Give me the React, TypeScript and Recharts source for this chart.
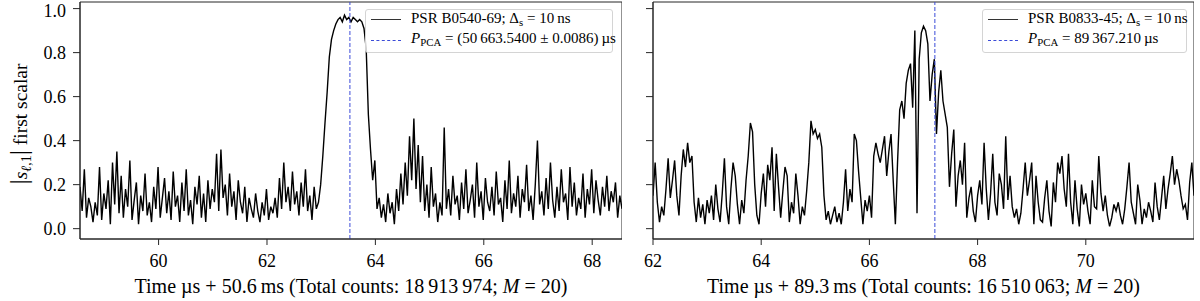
import React from "react";
import {
  LineChart,
  Line,
  XAxis,
  YAxis,
  ReferenceLine,
  ReferenceArea,
} from "recharts";

const FONT = "'Liberation Serif', 'DejaVu Serif', serif";
const AXIS = "#262626";
const BLUE = "#3b4bd8";
const STEP = 0.04; // sample spacing in µs

// PSR B0540-69
const LEFT_START = 58.55;
const LEFT_VALUES = [
  0.19, 0.08, 0.27, 0.05, 0.14, 0.10, 0.03, 0.12, 0.06, 0.28,
  0.04, 0.16, 0.09, 0.22, 0.02, 0.30, 0.11, 0.35, 0.07, 0.24,
  0.05, 0.18, 0.10, 0.31, 0.04, 0.13, 0.21, 0.02, 0.15, 0.08,
  0.25, 0.06, 0.12, 0.03, 0.19, 0.09, 0.28, 0.05, 0.14, 0.23,
  0.07, 0.17, 0.04, 0.26, 0.10, 0.15, 0.03, 0.21, 0.08, 0.27,
  0.06, 0.13, 0.02, 0.19, 0.11, 0.24, 0.05, 0.16, 0.03, 0.22,
  0.09, 0.18, 0.12, 0.34, 0.08, 0.36, 0.14, 0.20, 0.06, 0.25,
  0.10, 0.17, 0.04, 0.22, 0.12, 0.07, 0.19, 0.03, 0.14, 0.09,
  0.05, 0.16, 0.08, 0.03, 0.12, 0.06, 0.18, 0.04, 0.10, 0.07,
  0.14, 0.05, 0.23, 0.09, 0.30, 0.12, 0.19, 0.08, 0.26, 0.11,
  0.17, 0.06, 0.21, 0.10, 0.27, 0.08, 0.15, 0.04, 0.19, 0.09,
  0.12, 0.20, 0.33, 0.48, 0.62, 0.78, 0.86, 0.90, 0.93, 0.95,
  0.96, 0.94, 0.97, 0.95, 0.96, 0.94, 0.96, 0.95, 0.94, 0.95,
  0.94, 0.91, 0.82, 0.52, 0.36, 0.22, 0.31, 0.09, 0.14, 0.05,
  0.11, 0.03, 0.16, 0.07, 0.12, 0.02, 0.18, 0.08, 0.25, 0.11,
  0.30, 0.15, 0.42, 0.22, 0.50, 0.18, 0.38, 0.12, 0.33, 0.08,
  0.20, 0.05, 0.28, 0.10, 0.16, 0.03, 0.12, 0.06, 0.46, 0.09,
  0.18, 0.06, 0.24, 0.11, 0.15, 0.04, 0.21, 0.09, 0.27, 0.07,
  0.13, 0.20, 0.05, 0.30, 0.10, 0.17, 0.04, 0.23, 0.12, 0.08,
  0.19, 0.06, 0.26, 0.11, 0.14, 0.03, 0.22, 0.09, 0.31, 0.07,
  0.16, 0.10, 0.24, 0.05, 0.18, 0.12, 0.29, 0.08, 0.15, 0.04,
  0.20, 0.40, 0.11, 0.17, 0.06, 0.23, 0.09, 0.30, 0.13, 0.05,
  0.19, 0.08, 0.27, 0.12, 0.16, 0.04, 0.28, 0.10, 0.21, 0.06,
  0.14, 0.09, 0.25, 0.05, 0.18, 0.11, 0.27, 0.07, 0.22, 0.13,
  0.06, 0.19, 0.10, 0.24, 0.08, 0.17, 0.12, 0.21, 0.05, 0.15, 0.09,
];
const LEFT_DOMAIN = [58.55, 68.55];
const LEFT_TICKS = [60, 62, 64, 66, 68];
const LEFT_PERIOD = 63.53;

// PSR B0833-45
const RIGHT_START = 62.0;
const RIGHT_VALUES = [
  0.15, 0.30, 0.12, 0.03, 0.10, 0.06, 0.18, 0.32, 0.14, 0.22,
  0.31, 0.15, 0.06, 0.24, 0.36, 0.28, 0.39, 0.30, 0.33, 0.12,
  0.03, 0.14, 0.05, 0.11, 0.02, 0.13, 0.07, 0.15, 0.04, 0.20,
  0.09, 0.03, 0.16, 0.32, 0.10, 0.02, 0.18, 0.30, 0.24, 0.11,
  0.02, 0.13, 0.07, 0.22, 0.33, 0.48, 0.44, 0.20, 0.06, 0.02,
  0.16, 0.25, 0.10, 0.29, 0.22, 0.37, 0.08, 0.34, 0.19, 0.05,
  0.17, 0.28, 0.24, 0.03, 0.12, 0.07, 0.25, 0.15, 0.02, 0.10,
  0.06, 0.17, 0.30, 0.49, 0.43, 0.45, 0.41, 0.43, 0.37, 0.15,
  0.04, 0.08, 0.02, 0.06, 0.10, 0.03, 0.07, 0.02, 0.12, 0.27,
  0.08, 0.18, 0.12, 0.43, 0.40, 0.26, 0.14, 0.02, 0.13, 0.08,
  0.15, 0.05, 0.33, 0.39, 0.34, 0.30, 0.36, 0.42, 0.24, 0.35,
  0.43, 0.22, 0.02, 0.30, 0.54, 0.58, 0.50, 0.66, 0.72, 0.75,
  0.55, 0.90, 0.07, 0.77, 0.89, 0.92, 0.90, 0.84, 0.58, 0.70,
  0.77, 0.43, 0.62, 0.72, 0.58, 0.52, 0.46, 0.19, 0.34, 0.45,
  0.10, 0.24, 0.31, 0.20, 0.39, 0.05, 0.14, 0.19, 0.08, 0.03,
  0.15, 0.22, 0.11, 0.39, 0.18, 0.04, 0.16, 0.34, 0.12, 0.06,
  0.25, 0.20, 0.09, 0.42, 0.13, 0.24, 0.10, 0.05, 0.09, 0.02,
  0.07, 0.18, 0.30, 0.15, 0.22, 0.30, 0.02, 0.24, 0.12, 0.04,
  0.03, 0.14, 0.22, 0.08, 0.01, 0.21, 0.12, 0.30, 0.25, 0.33,
  0.18, 0.10, 0.34, 0.12, 0.02, 0.22, 0.09, 0.01, 0.20, 0.11,
  0.16, 0.08, 0.02, 0.22, 0.10, 0.09, 0.33, 0.16, 0.08, 0.15,
  0.06, 0.01, 0.05, 0.11, 0.08, 0.12, 0.06, 0.02, 0.09, 0.19,
  0.30, 0.12, 0.07, 0.02, 0.20, 0.13, 0.02, 0.09, 0.05, 0.12,
  0.08, 0.03, 0.21, 0.10, 0.04, 0.14, 0.24, 0.09, 0.18, 0.25,
  0.33, 0.20, 0.27, 0.22, 0.15, 0.09, 0.11, 0.04, 0.21, 0.30, 0.15,
];
const RIGHT_DOMAIN = [62, 72];
const RIGHT_TICKS = [62, 64, 66, 68, 70];
const RIGHT_PERIOD = 67.21;

const Y_DOMAIN = [-0.047, 1.03];
const Y_TICKS = [0, 0.2, 0.4, 0.6, 0.8, 1.0];

const toSeries = (start: number, values: number[]) =>
  values.map((v, i) => ({ t: +(start + i * STEP).toFixed(3), v }));

const leftData = toSeries(LEFT_START, LEFT_VALUES);
const rightData = toSeries(RIGHT_START, RIGHT_VALUES);

const HEIGHT = 301;
const MARGIN = { top: 2, right: 0, bottom: 32, left: 0 };

type PanelProps = {
  data: { t: number; v: number }[];
  domain: number[];
  ticks: number[];
  period: number;
  width: number;
  yWidth: number;
  showYLabels: boolean;
};

const Panel = ({ data, domain, ticks, period, width, yWidth, showYLabels }: PanelProps) => (
  <LineChart width={width} height={HEIGHT} data={data} margin={MARGIN}>
    <XAxis
      type="number"
      dataKey="t"
      domain={domain}
      ticks={ticks}
      allowDataOverflow
      height={30}
      tickSize={6}
      tickMargin={9}
      axisLine={{ stroke: AXIS }}
      tickLine={{ stroke: AXIS }}
      tick={{ fill: "#000", fontSize: 18, fontFamily: FONT }}
    />
    <YAxis
      type="number"
      domain={Y_DOMAIN}
      ticks={Y_TICKS}
      allowDataOverflow
      width={yWidth}
      tickSize={7}
      tickMargin={7}
      axisLine={{ stroke: AXIS }}
      tickLine={{ stroke: AXIS }}
      tick={{ fill: "#000", fontSize: 18, fontFamily: FONT }}
      tickFormatter={(v: number) => (showYLabels ? v.toFixed(1) : "")}
    />
    <Line
      type="linear"
      dataKey="v"
      stroke="#000"
      strokeWidth={1.4}
      dot={false}
      isAnimationActive={false}
    />
    <ReferenceLine x={period} stroke={BLUE} strokeWidth={1} strokeDasharray="4 2" />
    <ReferenceArea
      x1={domain[0]}
      x2={domain[1]}
      y1={Y_DOMAIN[0]}
      y2={Y_DOMAIN[1]}
      fill="none"
      stroke={AXIS}
      strokeWidth={1}
    />
  </LineChart>
);

const sub = { fontSize: "0.72em", verticalAlign: "-0.3em" } as const;

const LegendBox = ({
  left,
  width,
  first,
  second,
}: {
  left: number;
  width: number;
  first: React.ReactNode;
  second: React.ReactNode;
}) => (
  <div
    style={{
      position: "absolute",
      left,
      top: 9,
      width,
      height: 44,
      boxSizing: "border-box",
      border: "1px solid #d4d4d4",
      borderRadius: 3,
      background: "rgba(255,255,255,0.8)",
      fontFamily: FONT,
      fontSize: 15,
      color: "#000",
    }}
  >
    <div style={{ position: "absolute", left: 5, top: 9, width: 30, borderTop: "1.5px solid #333" }} />
    <div style={{ position: "absolute", left: 5, top: 30, width: 30, borderTop: `1.5px dashed ${BLUE}` }} />
    <div style={{ position: "absolute", left: 45, top: 0, whiteSpace: "nowrap" }}>{first}</div>
    <div style={{ position: "absolute", left: 45, top: 20, whiteSpace: "nowrap" }}>{second}</div>
  </div>
);

const XLabel = ({ center, offset, counts }: { center: number; offset: string; counts: string }) => (
  <div
    style={{
      position: "absolute",
      left: center - 300,
      width: 600,
      top: 275,
      textAlign: "center",
      fontFamily: FONT,
      fontSize: 20,
      color: "#000",
      whiteSpace: "nowrap",
    }}
  >
    Time µs + {offset}{"\u2009"}ms (Total counts: {counts}; <i>M</i> = 20)
  </div>
);

const App = () => (
  <div style={{ position: "absolute", left: 0, top: 0, width: 1200, height: HEIGHT, background: "#fff" }}>
    <div style={{ position: "absolute", left: 0, top: 0 }}>
      <Panel
        data={leftData}
        domain={LEFT_DOMAIN}
        ticks={LEFT_TICKS}
        period={LEFT_PERIOD}
        width={622}
        yWidth={80}
        showYLabels
      />
    </div>
    <div style={{ position: "absolute", left: 600, top: 0 }}>
      <Panel
        data={rightData}
        domain={RIGHT_DOMAIN}
        ticks={RIGHT_TICKS}
        period={RIGHT_PERIOD}
        width={594}
        yWidth={53}
        showYLabels={false}
      />
    </div>

    {/* y axis title */}
    <div
      style={{
        position: "absolute",
        left: 19 - 150,
        top: 124 - 13,
        width: 300,
        height: 26,
        lineHeight: "26px",
        textAlign: "center",
        transform: "rotate(-90deg)",
        fontFamily: FONT,
        fontSize: 19.5,
        color: "#000",
        whiteSpace: "nowrap",
      }}
    >
      <span style={{ fontSize: 26 }}>|</span>
      <i>s</i>
      <span style={sub}>
        <i>ℓ</i>,1
      </span>
      <span style={{ fontSize: 26 }}>|</span> first scalar
    </div>

    <XLabel center={351} offset="50.6" counts={"18\u2009913\u2009974"} />
    <XLabel center={923.5} offset="89.3" counts={"16\u2009510\u2009063"} />

    <LegendBox
      left={365}
      width={248}
      first={
        <>
          PSR B0540-69; Δ<span style={sub}>s</span> = 10{"\u2009"}ns
        </>
      }
      second={
        <>
          <i>P</i>
          <span style={sub}>PCA</span> = (50{"\u2009"}663.5400 ± 0.0086){"\u2009"}µs
        </>
      }
    />
    <LegendBox
      left={982}
      width={205}
      first={
        <>
          PSR B0833-45; Δ<span style={sub}>s</span> = 10{"\u2009"}ns
        </>
      }
      second={
        <>
          <i>P</i>
          <span style={sub}>PCA</span> = 89{"\u2009"}367.210{"\u2009"}µs
        </>
      }
    />
  </div>
);

export default App;
